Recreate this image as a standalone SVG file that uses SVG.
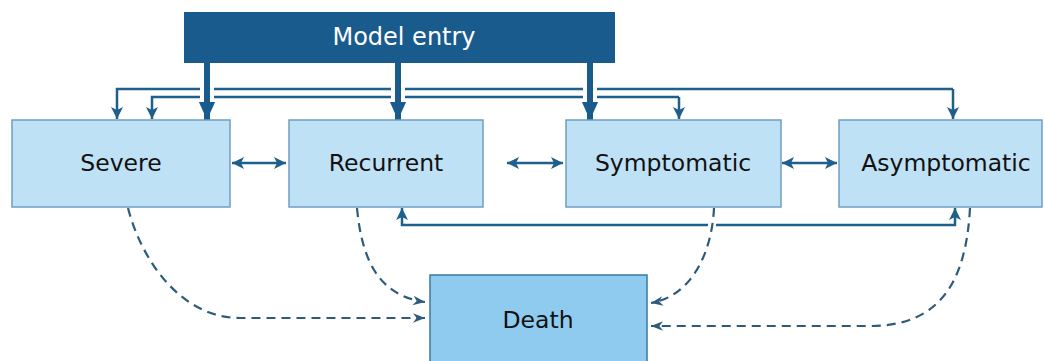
<svg xmlns="http://www.w3.org/2000/svg" width="1045" height="361" viewBox="0 0 1045 361">
<style>
.box{fill:#bfe1f6;stroke:#6f9fc3;stroke-width:1.5}
.death{fill:#8ecbef;stroke:#3a77a3;stroke-width:1.5}
.entry{fill:#195b8c}
.lbl{font-family:"DejaVu Sans",sans-serif;font-size:23.5px;fill:#111111;text-anchor:middle;dominant-baseline:central}
.wlbl{font-family:"DejaVu Sans",sans-serif;font-size:24px;fill:#ffffff;text-anchor:middle;dominant-baseline:central}
.thin{fill:none;stroke:#1f5f8b;stroke-width:2.5}
.thick{fill:none;stroke:#195b8c;stroke-width:6}
.halo{fill:none;stroke:#ffffff;stroke-width:14}
.dash{fill:none;stroke:#2d5b7b;stroke-width:2.2;stroke-dasharray:9 6}
</style>
<defs>
<marker id="ah" markerUnits="userSpaceOnUse" markerWidth="12" markerHeight="12" refX="10" refY="5" orient="auto-start-reverse" viewBox="0 0 10 10">
<path d="M0,0 L10,5 L0,10 L2.5,5 z" fill="#1f5f8b"/>
</marker>
<marker id="ahBig" markerUnits="userSpaceOnUse" markerWidth="18" markerHeight="18" refX="10" refY="5" orient="auto" viewBox="0 0 10 10">
<path d="M0,0.5 L10,5 L0,9.5 z" fill="#195b8c"/>
</marker>
<marker id="ahD" markerUnits="userSpaceOnUse" markerWidth="12" markerHeight="12" refX="10" refY="5" orient="auto" viewBox="0 0 10 10">
<path d="M0,1 L10,5 L0,9 L3,5 z" fill="#2d5b7b"/>
</marker>
</defs>

<g id="connectors">
<path class="thin" d="M953,89 L117,89 L117,119" marker-end="url(#ah)"/>
<path class="thin" d="M953,89 L953,119" marker-end="url(#ah)"/>
<path class="thin" d="M679,97 L152,97 L152,119" marker-end="url(#ah)"/>
<path class="thin" d="M679,97 L679,119" marker-end="url(#ah)"/>
<path class="halo" d="M207,64 L207,104"/>
<path class="halo" d="M398,64 L398,104"/>
<path class="halo" d="M590,64 L590,104"/>
<path class="thick" d="M207,63 L207,120" marker-end="url(#ahBig)"/>
<path class="thick" d="M398,63 L398,120" marker-end="url(#ahBig)"/>
<path class="thick" d="M590,63 L590,120" marker-end="url(#ahBig)"/>
<path class="thin" d="M232,163 L286,163" marker-start="url(#ah)" marker-end="url(#ah)"/>
<path class="thin" d="M507,163 L563,163" marker-start="url(#ah)" marker-end="url(#ah)"/>
<path class="thin" d="M782,163 L837,163" marker-start="url(#ah)" marker-end="url(#ah)"/>
<path class="thin" d="M402,208 L402,225 L955,225 L955,208" marker-start="url(#ah)" marker-end="url(#ah)"/>
<path class="halo" style="stroke-width:8" d="M713,218 L711,232"/>
<path class="dash" d="M128,208 C142,262 182,318 240,318 L425,318" marker-end="url(#ahD)"/>
<path class="dash" d="M357,208 C362,262 380,296 425,302" marker-end="url(#ahD)"/>
<path class="dash" d="M714,208 C712,252 692,296 651,303" marker-end="url(#ahD)"/>
<path class="dash" d="M970,208 C966,282 940,326 870,326 L651,326" marker-end="url(#ahD)"/>
</g>

<g id="node-entry">
<rect class="entry" x="184" y="12" width="431" height="51"/>
<text class="wlbl" x="404" y="37">Model entry</text>
</g>
<g id="node-severe">
<rect class="box" x="12" y="120" width="218" height="87"/>
<text class="lbl" x="121" y="163">Severe</text>
</g>
<g id="node-recurrent">
<rect class="box" x="289" y="120" width="194" height="87"/>
<text class="lbl" x="386" y="163">Recurrent</text>
</g>
<g id="node-symptomatic">
<rect class="box" x="566" y="120" width="215" height="87"/>
<text class="lbl" x="673" y="163">Symptomatic</text>
</g>
<g id="node-asymptomatic">
<rect class="box" x="839" y="120" width="203" height="87"/>
<text class="lbl" x="946" y="163">Asymptomatic</text>
</g>
<g id="node-death">
<rect class="death" x="430" y="275" width="217" height="95"/>
<text class="lbl" x="538" y="320">Death</text>
</g>
</svg>
